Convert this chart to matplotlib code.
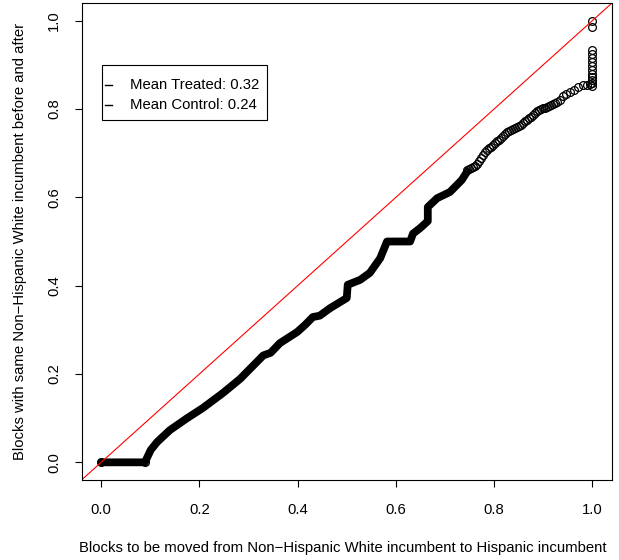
import numpy as np
import matplotlib
matplotlib.use('Agg')
from matplotlib import pyplot as plt
from matplotlib.patches import Rectangle

plt.rcParams['font.family'] = ['Liberation Sans', 'DejaVu Sans']

# dense part of the QQ curve (control quantile, treated quantile)
dense_x = [0.0, 0.089, 0.095, 0.101, 0.114, 0.140, 0.175, 0.207, 0.248, 0.283,
           0.330, 0.345, 0.364, 0.399, 0.415, 0.431, 0.445, 0.466, 0.500, 0.502,
           0.527, 0.547, 0.568, 0.582, 0.629, 0.635, 0.649, 0.665, 0.665, 0.684,
           0.710, 0.734, 0.745]
dense_y = [0.0, 0.0, 0.014, 0.028, 0.046, 0.073, 0.100, 0.123, 0.157, 0.189,
           0.242, 0.248, 0.270, 0.295, 0.311, 0.329, 0.332, 0.349, 0.372, 0.402,
           0.413, 0.429, 0.462, 0.500, 0.500, 0.518, 0.530, 0.546, 0.578, 0.598,
           0.612, 0.639, 0.658]

# sparser upper tail, individual circles
tail_x = [0.745, 0.749, 0.753, 0.757, 0.761, 0.765, 0.769, 0.774, 0.778, 0.782,
          0.786, 0.790, 0.794, 0.798, 0.802, 0.806, 0.810, 0.814, 0.818, 0.822,
          0.826, 0.830, 0.834, 0.839, 0.843, 0.847, 0.851, 0.855, 0.859, 0.863,
          0.867, 0.871, 0.875, 0.879, 0.883, 0.888, 0.892, 0.896, 0.900, 0.904,
          0.908, 0.912, 0.916, 0.920, 0.924, 0.928, 0.934, 0.940, 0.947, 0.955,
          0.963, 0.971, 0.981, 0.989, 0.995,
          1.0, 1.0, 1.0, 1.0, 1.0, 1.0, 1.0, 1.0, 1.0, 1.0, 1.0, 1.0, 1.0]
tail_y = [0.662, 0.664, 0.666, 0.668, 0.671, 0.675, 0.682, 0.689, 0.696, 0.703,
          0.707, 0.712, 0.714, 0.719, 0.723, 0.727, 0.730, 0.734, 0.739, 0.743,
          0.748, 0.750, 0.752, 0.755, 0.757, 0.759, 0.761, 0.764, 0.768, 0.773,
          0.775, 0.779, 0.782, 0.786, 0.791, 0.795, 0.798, 0.800, 0.802, 0.802,
          0.804, 0.807, 0.809, 0.811, 0.813, 0.816, 0.820, 0.829, 0.834, 0.838,
          0.843, 0.850, 0.854, 0.854, 0.857,
          0.852, 0.859, 0.866, 0.873, 0.880, 0.888, 0.897, 0.906, 0.915, 0.924,
          0.933, 0.985, 1.0]

ticks = [0.0, 0.2, 0.4, 0.6, 0.8, 1.0]
tick_labels = ['0.0', '0.2', '0.4', '0.6', '0.8', '1.0']
legend_labels = ['Mean Treated: 0.32', 'Mean Control: 0.24']

fs = 10.7

fig = plt.figure(figsize=(6.19, 5.6), dpi=100)
ax = fig.add_axes([81.5/619, 80/560, (612-81.5)/619, (477)/560])

ax.plot(dense_x, dense_y, color='black', lw=5.6, solid_capstyle='round',
        solid_joinstyle='round')
ax.plot(dense_x[:2], dense_y[:2], 'o', mfc='none', mec='black', ms=5.6, mew=0.9)
ax.plot(tail_x, tail_y, 'o', mfc='none', mec='black', ms=5.6, mew=0.9)
ax.axline((0, 0), slope=1, color='red', lw=0.8)

ax.set_xlim(-0.04, 1.04)
ax.set_ylim(-0.04, 1.04)
ax.set_xticks(ticks)
ax.set_xticklabels(tick_labels)
ax.set_yticks(ticks)
ax.set_yticklabels(tick_labels, rotation=90, va='center')
ax.tick_params(direction='out', length=5, width=0.8, labelsize=fs)
ax.tick_params(axis='x', pad=11.5)
ax.tick_params(axis='y', pad=9.5)
for s in ax.spines.values():
    s.set_linewidth(0.8)

ax.set_xlabel('Blocks to be moved from Non\u2212Hispanic White incumbent to Hispanic incumbent',
              fontsize=fs, labelpad=17)
ax.xaxis.label.set_x(0.492)
ax.set_ylabel('Blocks with same Non\u2212Hispanic White incumbent before and after',
              fontsize=fs, labelpad=15)

# legend box, drawn by hand like R's legend()
ax.add_patch(Rectangle((0.0386, 0.7547), 0.3111, 0.1153, transform=ax.transAxes,
                       facecolor='white', edgecolor='black', lw=0.8, zorder=5))
for lab, yy in zip(legend_labels, [0.828, 0.786]):
    ax.plot([0.0443, 0.0575], [yy, yy], color='black', lw=1,
            transform=ax.transAxes, zorder=6)
    ax.text(0.0914, yy, lab, transform=ax.transAxes, fontsize=fs,
            va='center', ha='left', zorder=6)

fig.savefig('out.png', dpi=100)
